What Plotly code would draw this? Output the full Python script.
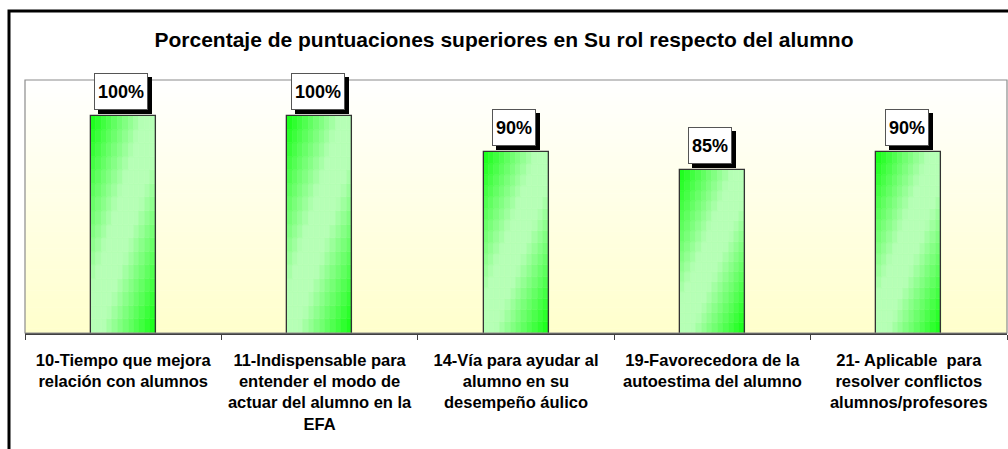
import plotly.graph_objects as go

# ---------------- data ----------------
categories = [
    "10-Tiempo que mejora<br>relación con alumnos",
    "11-Indispensable para<br>entender el modo de<br>actuar del alumno en la<br>EFA",
    "14-Vía para ayudar al<br>alumno en su<br>desempeño áulico",
    "19-Favorecedora de la<br>autoestima del alumno",
    "21- Aplicable  para<br>resolver conflictos<br>alumnos/profesores",
]
values = [100, 100, 90, 85, 90]
value_labels = ["100%", "100%", "90%", "85%", "90%"]
title_text = "Porcentaje de puntuaciones superiores en Su rol respecto del alumno"

# ---------------- style ----------------
W, H = 1008, 449
ML, MR, MT, MB = 25, 1, 80, 116
PW, PH = W - ML - MR, H - MT - MB
Y_MIN, Y_MAX = 40, 110
BAR_W = 0.331
NX, NY = 12, 16
FONT = "Liberation Sans, Arial, sans-serif"
LABEL_SIZE = 18

GREEN = (16, 255, 16)
LIGHT = (182, 255, 182)


def grad_color(u, t):
    g = u + t
    f = 1 - abs(g - 1)
    m = min(1.0, f * 1.2)
    c = [round(GREEN[k] + (LIGHT[k] - GREEN[k]) * m) for k in range(3)]
    return "rgb(%d,%d,%d)" % tuple(c)


def text_width(s, size):
    w = 0.0
    for ch in s:
        w += 0.889 if ch == "%" else 0.556
    return w * size


fig = go.Figure()

# gradient-filled bars, built as cells of the same bars
for j in range(NY):
    seg = [(v - Y_MIN) / NY for v in values]
    base = [Y_MIN + (v - Y_MIN) * j / NY for v in values]
    t = 1 - (j + 0.5) / NY
    for i in range(NX):
        u = (i + 0.5) / NX
        col = grad_color(u, t)
        fig.add_trace(go.Bar(
            x=categories, y=seg, base=base,
            width=BAR_W / NX, offset=-BAR_W / 2 + i * BAR_W / NX,
            marker=dict(color=col, line=dict(color=col, width=0.6)),
            hoverinfo="skip", showlegend=False,
        ))

# bar outlines
fig.add_trace(go.Bar(
    x=categories, y=values, width=BAR_W, offset=-BAR_W / 2,
    marker=dict(color="rgba(0,0,0,0)", line=dict(color="#333333", width=1.3)),
    hoverinfo="skip", showlegend=False,
))

# background gradient of the plot area
shapes = []
NB = 60
for k in range(NB):
    t = (k + 0.5) / NB  # 0 bottom -> 1 top
    r, g, b = 255, 255, round(204 + (255 - 204) * t)
    shapes.append(dict(
        type="rect", xref="x domain", yref="y domain",
        x0=0, x1=1, y0=k / NB, y1=(k + 1) / NB + 0.002,
        fillcolor="rgb(%d,%d,%d)" % (r, g, b), line=dict(width=0), layer="below",
    ))

# plot-area border (gray)
shapes.append(dict(
    type="rect", xref="x domain", yref="y domain", x0=0, x1=1, y0=0, y1=1,
    line=dict(color="#8c8c8c", width=1.2), fillcolor="rgba(0,0,0,0)", layer="above",
))

# outer black frame (left and top edges visible)
fx = (9 - ML) / PW
fyt = 1 + (MT - 11) / PH
fyb = 1 - (H + 10 - MT) / PH
fxr = (W + 10 - ML) / PW
shapes.append(dict(
    type="path", xref="paper", yref="paper",
    path="M %f,%f L %f,%f L %f,%f" % (fx, fyb, fx, fyt, fxr, fyt),
    line=dict(color="black", width=3), layer="above",
))

# value labels with drop shadows
annotations = []
for c, v, lab in zip(categories, values, value_labels):
    common = dict(x=c, y=v, xref="x", yref="y",
                  showarrow=False, yanchor="bottom", xanchor="center",
                  height=29, borderpad=3, borderwidth=1,
                  font=dict(family=FONT, size=LABEL_SIZE, color="black"))
    annotations.append(dict(common, text="&nbsp;",
                            width=round(text_width(lab, LABEL_SIZE)),
                            xshift=-2 + 4, yshift=6 - 4,
                            bgcolor="black", bordercolor="black"))
    annotations.append(dict(common, text="<b>%s</b>" % lab, xshift=-2, yshift=6,
                            bgcolor="white", bordercolor="#555555"))

fig.update_layout(
    width=W, height=H,
    margin=dict(l=ML, r=MR, t=MT, b=MB),
    paper_bgcolor="white", plot_bgcolor="white",
    barmode="overlay", bargap=0,
    title=dict(text="<b>%s</b>" % title_text, x=0.5, xanchor="center",
               y=1 - 40 / H, yanchor="middle", yref="container",
               font=dict(family=FONT, size=21, color="black")),
    font=dict(family=FONT, color="black"),
    shapes=shapes, annotations=annotations,
    xaxis=dict(type="category", tickson="boundaries", ticks="outside", ticklen=5,
               tickcolor="#404040", tickwidth=1.2, showline=True, linecolor="#404040",
               linewidth=1.5, showgrid=False, zeroline=False,
               tickvals=categories, ticktext=["<b>%s</b>" % c for c in categories],
               tickfont=dict(family=FONT, size=16.5, color="black"),
               ticklabelstandoff=11, fixedrange=True),
    yaxis=dict(range=[Y_MIN, Y_MAX], showticklabels=False, showgrid=False,
               zeroline=False, showline=False, ticks="", fixedrange=True),
)

fig.write_html("out.html", config={"displayModeBar": False},
               post_script="document.body.style.margin='0px';document.body.style.overflow='hidden';")
